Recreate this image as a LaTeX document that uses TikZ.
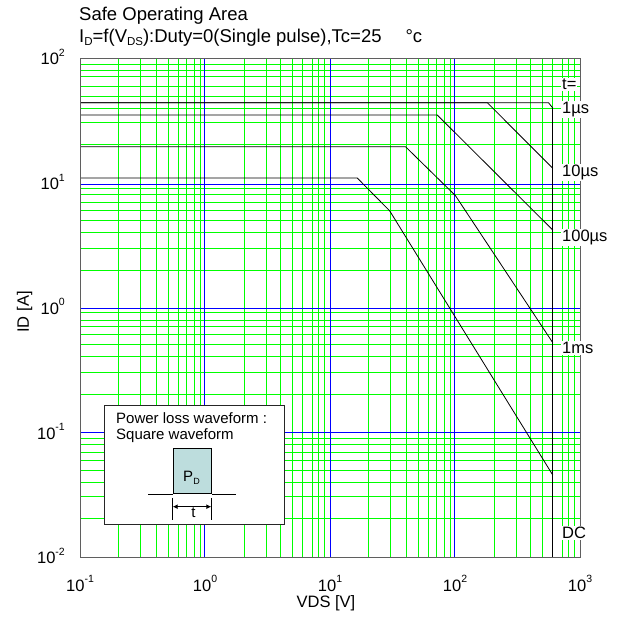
\documentclass[tikz,border=0pt]{standalone}
\usepackage{fontspec}
\setmainfont{Liberation Sans}
\usetikzlibrary{arrows.meta}
\definecolor{gridgreen}{RGB}{0,255,0}
\definecolor{gridblue}{RGB}{0,0,255}
\definecolor{pulsefill}{RGB}{189,221,221}
\definecolor{framegray}{RGB}{95,95,95}
\newcommand\pw[1]{10\raisebox{8.5pt}{\fontsize{10.5}{10.5}\selectfont #1}}
\newcommand\sbs[1]{\raisebox{-3.5pt}{\fontsize{11.5}{11.5}\selectfont #1}}
\begin{document}
\begin{tikzpicture}[x=1pt,y=1pt,
  axlab/.style={font=\fontsize{16.5}{18}\selectfont, inner sep=0pt},
  titlefont/.style={font=\fontsize{18.5}{20}\selectfont, inner sep=0pt, anchor=base west},
  tlab/.style={font=\fontsize{16.5}{18}\selectfont, fill=white, inner sep=1pt, anchor=base west},
  insettext/.style={font=\fontsize{15}{16}\selectfont, inner sep=0pt, anchor=base west},
  gline/.style={draw=gridgreen, line width=1pt},
  bline/.style={draw=gridblue, line width=1pt},
  curve/.style={draw=black, line width=0.8pt, line join=round}]
\useasboundingbox (0,0) rectangle (618,619);
% titles
\node[titlefont] (title1) at (79,598) {Safe Operating Area};
\node[titlefont] (title2) at (79,576.5) {I\sbs{D}=f(V\sbs{DS}):Duty=0(Single pulse),Tc=25\hspace{24pt}°c};
% grid, snapped to even pixel columns / rows
\foreach \d in {0,1,2,3}{
  \foreach \k in {2,...,9}{
    \pgfmathsetmacro\gx{2*round((80.5+125*(\d+log10(\k)))/2)+0.5}
    \pgfmathsetmacro\gy{2*round((61.5+124.75*(\d+log10(\k)))/2)+0.5}
    \draw[gline] (\gx,61.5) -- (\gx,560.5);
    \draw[gline] (80.5,\gy) -- (580.5,\gy);
  }
}
\foreach \bx in {204.5,330.5,454.5}{\draw[bline] (\bx,61.5) -- (\bx,560.5);}
\foreach \by in {186.5,310.5,434.5}{\draw[bline] (80.5,\by) -- (580.5,\by);}
% SOA curves
\begin{scope}[shift={(80.5,61.5)}, x=125pt, y=124.75pt]
  \draw[curve] (0,3.646) -- (3.744,3.646) -- (3.778,3.603);
  \draw[curve] (0,3.646) -- (3.254,3.646) -- (3.778,3.12);
  \draw[curve] (0,3.547) -- (2.854,3.547) -- (3.778,2.625);
  \draw[curve] (0,3.293) -- (2.6,3.293) -- (3.0,2.9) -- (3.778,1.722);
  \draw[curve] (0,3.042) -- (2.214,3.042) -- (2.474,2.778) -- (3.778,0.661);
  \draw[draw=black, line width=1.3pt] (3.778,3.603) -- (3.778,0);
\end{scope}
\draw[draw=framegray, line width=1pt] (80.5,61.5) rectangle (580.5,560.5);
% axis tick labels
\node[axlab, anchor=base east] (y2) at (65,554) {\pw{2}};
\node[axlab, anchor=base east] (y1) at (65,429.3) {\pw{1}};
\node[axlab, anchor=base east] (y0) at (65,304.5) {\pw{0}};
\node[axlab, anchor=base east] (ym1) at (65,179.8) {\pw{-1}};
\node[axlab, anchor=base east] (ym2) at (65,55) {\pw{-2}};
\node[axlab, anchor=base] (xm1) at (80,27.5) {\pw{-1}};
\node[axlab, anchor=base] (x0) at (205,27.5) {\pw{0}};
\node[axlab, anchor=base] (x1) at (330,27.5) {\pw{1}};
\node[axlab, anchor=base] (x2) at (455,27.5) {\pw{2}};
\node[axlab, anchor=base] (x3) at (580,27.5) {\pw{3}};
\node[axlab, anchor=base] (xlab) at (326,11.5) {VDS [V]};
\node[axlab, rotate=90] (ylab) at (24.5,307) {ID [A]};
% curve labels
\node[tlab] (lt) at (561,529) {t=};
\node[tlab] (l1us) at (561,505.5) {1µs};
\node[tlab] (l10us) at (561,442.2) {10µs};
\node[tlab] (l100us) at (561,377.2) {100µs};
\node[tlab] (l1ms) at (561,265.2) {1ms};
\node[tlab] (ldc) at (561,80.2) {DC};
% inset
\node[draw=black!85, line width=1pt, fill=white, anchor=south west, minimum width=180pt, minimum height=119.3pt, inner sep=0pt] (inset) at (104.3,94) {};
\node[insettext] (inl1) at (116,195) {Power loss waveform :};
\node[insettext] (inl2) at (116,179) {Square waveform};
\node[draw=black, fill=pulsefill, line width=0.8pt, anchor=south west, minimum width=38.6pt, minimum height=44.7pt, inner sep=0pt] (pulse) at (172.7,125) {};
\coordinate (bl) at (148.3,125);
\coordinate (br) at (236,125);
\draw[black, line width=0.8pt] (bl) -- (pulse.south west) (pulse.south east) -- (br);
\node[font=\fontsize{15}{16}\selectfont, inner sep=0pt, anchor=base] (pd) at (191.5,137.3) {P\raisebox{-3pt}{\fontsize{9}{9}\selectfont D}};
\coordinate (tl1) at (172.7,121);
\coordinate (tl2) at (172.7,99);
\coordinate (tr1) at (211.3,121);
\coordinate (tr2) at (211.3,99);
\draw[black, line width=0.8pt] (tl1) -- (tl2) (tr1) -- (tr2);
\coordinate (al) at (172.7,112.3);
\coordinate (ar) at (211.3,112.3);
\draw[black, line width=1.2pt, {Latex[length=5pt,width=5pt]}-{Latex[length=5pt,width=5pt]}] (al) -- (ar);
\node[font=\fontsize{15}{16}\selectfont, inner sep=0pt, anchor=base] (tt) at (193.5,101) {t};
\end{tikzpicture}
\end{document}
